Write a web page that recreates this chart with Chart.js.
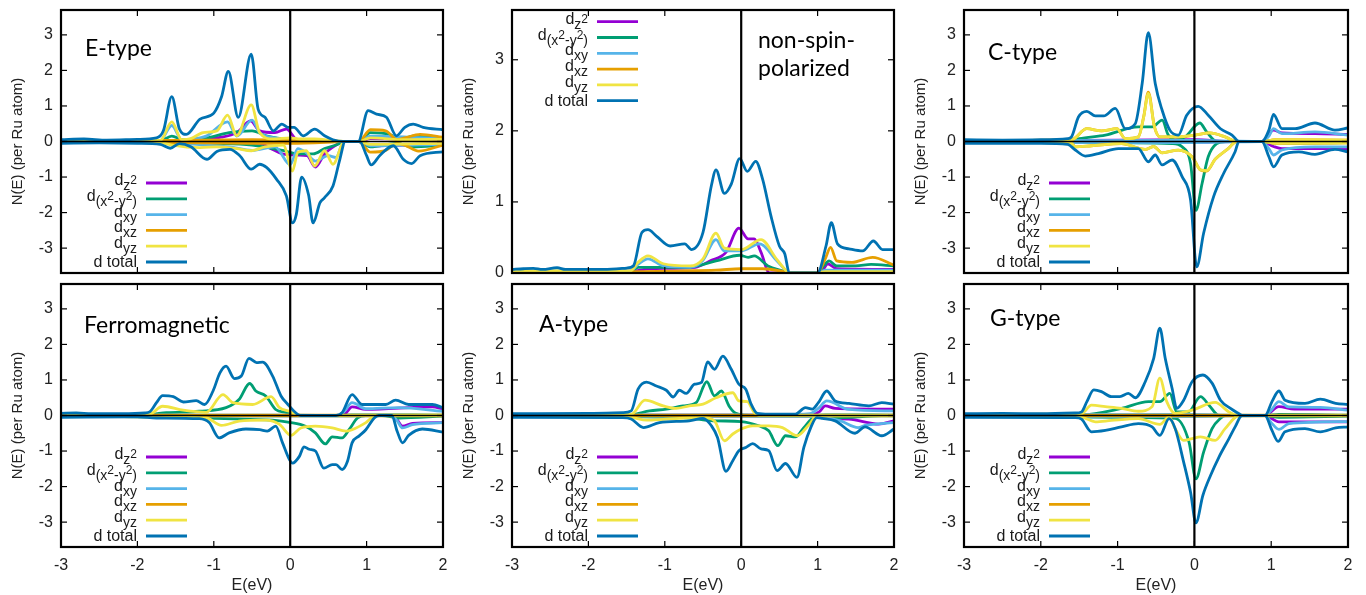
<!DOCTYPE html>
<html>
<head>
<meta charset="utf-8">
<title>Ru d-DOS</title>
<script src="https://cdn.jsdelivr.net/npm/chart.js@4.4.1/dist/chart.umd.min.js"></script>
<style>
  html, body { margin: 0; padding: 0; background: #fff; }
  body { width: 1366px; height: 595px; position: relative; overflow: hidden; }
  .panel { position: absolute; }
</style>
</head>
<body>
<div class="panel" style="left:0px;top:0px;width:448px;height:283px"><canvas id="p1"></canvas></div>
<div class="panel" style="left:451px;top:0px;width:448px;height:283px"><canvas id="p2"></canvas></div>
<div class="panel" style="left:903px;top:0px;width:450px;height:283px"><canvas id="p3"></canvas></div>
<div class="panel" style="left:0px;top:274px;width:448px;height:321px"><canvas id="p4"></canvas></div>
<div class="panel" style="left:451px;top:274px;width:448px;height:321px"><canvas id="p5"></canvas></div>
<div class="panel" style="left:903px;top:274px;width:450px;height:321px"><canvas id="p6"></canvas></div>

<script>
/* ── Axis ticks ───────────────────────────────────────── */
const energyTicks = [-3, -2, -1, 0, 1, 2];
const dosTicks = [-3, -2, -1, 0, 1, 2, 3];
const dosTicksNsp = [0, 1, 2, 3];

/* ── E-type (up spin > 0, down spin < 0) ──────────────── */
const eZ2Up = [[-3,0.01],[-1.6,0.02],[-1.2,0.07],[-0.9,0.12],[-0.7,0.25],[-0.52,0.58],[-0.4,0.3],[-0.2,0.25],[-0.05,0.35],[0.1,0.03],[0.6,0],[0.9,0],[1.05,0.08],[2,0.05]];
const eZ2Dn = [[-3,-0.01],[-1.0,-0.03],[-0.4,-0.05],[-0.25,-0.2],[-0.1,-0.35],[0.1,-0.38],[0.22,-0.4],[0.33,-0.72],[0.45,-0.35],[0.6,-0.1],[0.7,0],[0.9,0],[1.05,-0.12],[2,-0.05]];
const eX2y2Up = [[-3,0.01],[-1.7,0.02],[-1.55,0.15],[-1.4,0.05],[-1.1,0.1],[-0.8,0.25],[-0.5,0.3],[-0.3,0.15],[0,0.05],[0.6,0],[0.9,0],[1.05,0.25],[1.3,0.2],[1.45,0.05],[1.6,0.15],[2,0.1]];
const eX2y2Dn = [[-3,-0.01],[-1.7,-0.02],[-1.0,-0.05],[-0.5,-0.1],[-0.1,-0.25],[0.1,-0.35],[0.3,-0.35],[0.45,-0.2],[0.6,-0.1],[0.7,0],[0.9,0],[1.05,-0.15],[1.4,-0.05],[1.6,-0.15],[2,-0.1]];
const eXyUp = [[-3,0.02],[-1.7,0.03],[-1.55,0.45],[-1.42,0.05],[-1.1,0.15],[-0.82,0.55],[-0.7,0.15],[-0.5,0.6],[-0.4,0.25],[-0.2,0.1],[0,0.05],[0.6,0.01],[0.7,0],[0.9,0],[1.05,0.15],[2,0.08]];
const eXyDn = [[-3,-0.02],[-1.7,-0.03],[-1.1,-0.1],[-0.8,-0.15],[-0.5,-0.25],[-0.2,-0.15],[0,-0.65],[0.1,-0.2],[0.2,-0.3],[0.33,-0.55],[0.5,-0.4],[0.6,-0.45],[0.7,0],[0.9,0],[1.05,-0.12],[2,-0.08]];
const eXzUp = [[-3,0.02],[-1.6,0.03],[-0.5,0.05],[0,0.03],[0.6,0.01],[0.7,0],[0.9,0],[1.05,0.33],[1.25,0.3],[1.4,0.05],[1.5,0.1],[1.7,0.2],[2,0.12]];
const eXzDn = [[-3,-0.02],[-1.6,-0.03],[-0.5,-0.05],[0,-0.05],[0.6,-0.01],[0.7,0],[0.9,0],[1.05,-0.3],[1.25,-0.25],[1.4,-0.05],[1.5,-0.1],[1.68,-0.27],[2,-0.1]];
const eYzUp = [[-3,0.02],[-1.7,0.03],[-1.55,0.55],[-1.42,0.05],[-1.3,0.08],[-1.14,0.25],[-0.96,0.3],[-0.82,0.74],[-0.7,0.16],[-0.51,1.03],[-0.4,0.25],[-0.22,0.07],[0,0.1],[0.13,0.07],[0.32,0.07],[0.56,0.02],[0.7,0],[0.9,0],[1.05,0.1],[1.5,0.05],[2,0.06]];
const eYzDn = [[-3,-0.02],[-1.7,-0.03],[-1.55,-0.1],[-1.18,-0.17],[-0.96,-0.15],[-0.7,-0.2],[-0.51,-0.26],[-0.33,-0.15],[-0.09,-0.1],[0.03,-0.83],[0.1,-0.3],[0.21,-0.26],[0.32,-0.69],[0.45,-0.26],[0.56,-0.64],[0.69,-0.03],[0.72,0],[0.9,0],[1.05,-0.08],[2,-0.05]];
const eTotUp = [[-3,0.05],[-2.7,0.07],[-2.4,0.04],[-2.0,0.06],[-1.75,0.1],[-1.66,0.3],[-1.55,1.26],[-1.45,0.35],[-1.36,0.2],[-1.18,0.63],[-1.0,0.8],[-0.9,1.25],[-0.81,1.97],[-0.68,0.68],[-0.51,2.46],[-0.42,0.91],[-0.33,0.68],[-0.22,0.3],[-0.11,0.49],[-0.03,0.4],[0.05,0.4],[0.17,0.16],[0.32,0.35],[0.45,0.16],[0.56,0.05],[0.69,0],[0.89,0],[1.02,0.87],[1.13,0.77],[1.26,0.68],[1.39,0.16],[1.5,0.4],[1.61,0.49],[1.74,0.4],[2,0.33]];
const eTotDn = [[-3,-0.05],[-2.5,-0.04],[-2.0,-0.05],[-1.7,-0.08],[-1.57,-0.19],[-1.45,-0.06],[-1.3,-0.15],[-1.09,-0.5],[-0.96,-0.28],[-0.79,-0.22],[-0.66,-0.4],[-0.51,-0.78],[-0.4,-0.64],[-0.31,-0.73],[-0.18,-1.06],[-0.05,-1.53],[0.03,-2.29],[0.08,-2.05],[0.15,-1.0],[0.24,-1.5],[0.3,-2.29],[0.39,-1.72],[0.45,-1.58],[0.56,-1.25],[0.65,-0.5],[0.72,0],[0.91,0],[1.0,-0.4],[1.06,-0.66],[1.17,-0.4],[1.35,-0.12],[1.48,-0.5],[1.59,-0.62],[1.7,-0.4],[2,-0.29]];

/* ── non-spin-polarized ───────────────────────────────── */
const nZ2 = [[-3,0.02],[-1.4,0.03],[-1.2,0.06],[-0.6,0.08],[-0.41,0.17],[-0.2,0.29],[-0.03,0.63],[0.09,0.48],[0.17,0.48],[0.26,0.29],[0.37,0],[1.0,0],[1.08,0.06],[1.13,0.13],[1.25,0.06],[2,0.05]];
const nX2y2 = [[-3,0.01],[-1.45,0.02],[-1.35,0.08],[-0.7,0.08],[-0.33,0.17],[-0.02,0.25],[0.09,0.22],[0.17,0.24],[0.35,0.1],[0.54,0.03],[0.63,0],[1.0,0],[1.08,0.1],[1.15,0.17],[1.25,0.1],[1.5,0.1],[1.7,0.12],[2,0.1]];
const nXy = [[-3,0.03],[-1.45,0.03],[-1.35,0.12],[-1.22,0.2],[-1.02,0.1],[-0.67,0.08],[-0.5,0.18],[-0.33,0.47],[-0.22,0.31],[0,0.31],[0.24,0.41],[0.46,0.18],[0.59,0.03],[0.63,0],[1.0,0],[1.1,0.04],[2,0.04]];
const nXz = [[-3,0.02],[-1.4,0.02],[-0.8,0.03],[-0.33,0.04],[0,0.06],[0.28,0.06],[0.55,0.02],[0.63,0],[1.0,0],[1.1,0.2],[1.17,0.36],[1.25,0.17],[1.45,0.15],[1.72,0.22],[2,0.11]];
const nYz = [[-3,0.03],[-1.45,0.03],[-1.35,0.15],[-1.22,0.24],[-1.02,0.13],[-0.67,0.1],[-0.5,0.2],[-0.33,0.56],[-0.22,0.35],[0,0.33],[0.26,0.47],[0.46,0.2],[0.59,0.03],[0.63,0],[1.0,0],[1.1,0.02],[2,0.02]];
const nTot = [[-3,0.05],[-2.85,0.06],[-2.72,0.065],[-2.6,0.05],[-2.41,0.075],[-2.3,0.05],[-1.8,0.05],[-1.5,0.07],[-1.41,0.1],[-1.3,0.57],[-1.22,0.61],[-1.11,0.52],[-0.93,0.38],[-0.74,0.41],[-0.65,0.33],[-0.5,0.57],[-0.39,1.23],[-0.33,1.45],[-0.22,1.12],[-0.13,1.25],[-0.02,1.61],[0.08,1.43],[0.19,1.57],[0.28,1.32],[0.39,0.8],[0.5,0.38],[0.57,0.27],[0.63,0],[1.0,0],[1.11,0.38],[1.18,0.71],[1.26,0.41],[1.41,0.34],[1.59,0.31],[1.73,0.45],[1.85,0.33],[2,0.33]];

/* ── C-type ───────────────────────────────────────────── */
const cZ2Up = [[-3,0.01],[0,0.05],[0.5,0],[0.88,0],[1.03,0.32],[1.14,0.24],[1.57,0.22],[2,0.2]];
const cZ2Dn = [[-3,-0.01],[0,-0.02],[0.5,0],[0.88,0],[1.03,-0.14],[1.14,-0.2],[2,-0.2]];
const cX2y2Up = [[-3,0.01],[-1.6,0.02],[-1.5,0.08],[-1.16,0.18],[-0.73,0.41],[-0.55,0.41],[-0.42,0.6],[-0.34,0.18],[-0.25,0.04],[-0.12,0.13],[0.07,0.52],[0.16,0.27],[0.29,0],[0.9,0],[1.05,0.03],[2,0.02]];
const cX2y2Dn = [[-3,-0.01],[-1.6,-0.02],[-0.8,-0.04],[-0.29,-0.06],[-0.16,-0.15],[-0.05,-0.62],[0.02,-1.94],[0.1,-1.18],[0.18,-0.43],[0.29,-0.06],[0.4,0],[0.9,0],[1.05,-0.05],[2,-0.03]];
const cXyUp = [[-3,0.02],[0,0.03],[0.5,0.01],[0.88,0],[0.97,0.15],[1.03,0.36],[1.14,0.22],[1.57,0.27],[2,0.18]];
const cXyDn = [[-3,-0.02],[0,-0.03],[0.5,-0.01],[0.88,0],[0.97,-0.2],[1.03,-0.38],[1.14,-0.24],[1.57,-0.15],[2,-0.15]];
const cXzUp = [[-3,0.02],[-1.6,0.05],[-1.4,0.36],[-1.21,0.3],[-1.01,0.36],[-0.9,0.08],[-0.73,0.13],[-0.66,0.7],[-0.6,1.39],[-0.52,0.41],[-0.45,0.13],[-0.2,0.13],[0.01,0.18],[0.2,0.24],[0.4,0.13],[0.55,0],[0.9,0],[1.05,0.05],[2,0.04]];
const cXzDn = [[-3,-0.02],[-1.6,-0.05],[-1.55,-0.15],[-1.34,-0.12],[-0.95,-0.06],[-0.64,-0.22],[-0.53,-0.14],[-0.42,-0.32],[-0.21,-0.24],[-0.03,-0.43],[0.08,-0.8],[0.16,-0.83],[0.27,-0.5],[0.44,-0.2],[0.55,0],[0.9,0],[1.05,-0.05],[2,-0.04]];
const cYzUp = [[-3,0.02],[-1.6,0.05],[-1.4,0.36],[-1.21,0.3],[-1.01,0.36],[-0.9,0.08],[-0.73,0.13],[-0.66,0.69],[-0.6,1.35],[-0.52,0.41],[-0.45,0.13],[-0.2,0.13],[0.01,0.18],[0.2,0.24],[0.4,0.13],[0.55,0],[0.9,0],[1.05,0.05],[2,0.04]];
const cYzDn = [[-3,-0.02],[-1.6,-0.05],[-1.55,-0.15],[-1.34,-0.12],[-0.95,-0.06],[-0.64,-0.22],[-0.53,-0.14],[-0.42,-0.32],[-0.21,-0.24],[-0.03,-0.43],[0.08,-0.8],[0.16,-0.82],[0.27,-0.5],[0.44,-0.2],[0.55,0],[0.9,0],[1.05,-0.05],[2,-0.04]];
const cTotUp = [[-3,0.05],[-2.5,0.04],[-2.0,0.05],[-1.65,0.08],[-1.6,0.13],[-1.51,0.69],[-1.4,0.85],[-1.29,0.72],[-1.18,0.72],[-1.03,0.93],[-0.9,0.36],[-0.77,0.5],[-0.68,1.63],[-0.6,3.06],[-0.51,1.63],[-0.42,0.88],[-0.32,0.32],[-0.21,0.18],[-0.1,0.74],[0.05,0.99],[0.18,0.74],[0.34,0.36],[0.49,0.18],[0.58,0],[0.88,0],[0.97,0.32],[1.03,0.76],[1.14,0.36],[1.31,0.36],[1.57,0.52],[1.83,0.32],[2,0.38]];
const cTotDn = [[-3,-0.05],[-2.0,-0.05],[-1.65,-0.08],[-1.55,-0.24],[-1.42,-0.41],[-1.25,-0.34],[-0.99,-0.2],[-0.73,-0.2],[-0.6,-0.57],[-0.51,-0.38],[-0.42,-0.66],[-0.29,-0.52],[-0.16,-0.99],[-0.05,-1.64],[0.03,-3.53],[0.12,-2.58],[0.25,-1.55],[0.38,-0.9],[0.53,-0.29],[0.58,0],[0.88,0],[0.97,-0.43],[1.03,-0.71],[1.14,-0.38],[1.36,-0.29],[1.57,-0.36],[1.83,-0.22],[2,-0.29]];

/* ── Ferromagnetic ────────────────────────────────────── */
const fZ2Up = [[-3,0.01],[0.6,0],[0.72,0.05],[0.81,0.24],[0.99,0.17],[1.86,0.24],[2,0.18]];
const fZ2Dn = [[-3,-0.01],[1.33,0],[1.4,-0.12],[1.47,-0.3],[1.6,-0.22],[2,-0.2]];
const fX2y2Up = [[-3,0.01],[-1.85,0.03],[-1.62,0.08],[-1.19,0.12],[-0.84,0.22],[-0.67,0.45],[-0.53,0.9],[-0.45,0.69],[-0.32,0.55],[-0.19,0.17],[-0.06,0.09],[0.14,0],[0.6,0],[0.8,0.02],[2,0.01]];
const fX2y2Dn = [[-3,-0.01],[-1.1,-0.07],[-0.53,-0.11],[-0.23,-0.13],[-0.01,-0.19],[0.2,-0.3],[0.33,-0.49],[0.46,-0.8],[0.55,-0.6],[0.68,-0.63],[0.77,-0.4],[0.88,-0.07],[0.99,0],[1.2,0],[1.42,-0.07],[2,-0.02]];
const fXyUp = [[-3,0.02],[0.14,0.01],[0.6,0],[0.7,0.1],[0.81,0.36],[0.99,0.19],[1.42,0.22],[2,0.12]];
const fXyDn = [[-3,-0.02],[0.5,-0.02],[1.33,0],[1.4,-0.15],[1.47,-0.35],[1.6,-0.26],[2,-0.2]];
const fXzUp = [[-3,0.01],[2,0.01]];
const fXzDn = [[-3,-0.01],[2,-0.01]];
const fYzUp = [[-3,0.03],[-1.85,0.03],[-1.67,0.26],[-1.4,0.15],[-1.1,0.09],[-0.88,0.59],[-0.75,0.36],[-0.49,0.31],[-0.25,0.53],[-0.14,0.22],[-0.01,0.12],[0.14,0],[2,0.01]];
const fYzDn = [[-3,-0.02],[-1.1,-0.07],[-0.9,-0.28],[-0.67,-0.16],[-0.32,-0.13],[-0.14,-0.25],[0.01,-0.56],[0.14,-0.35],[0.33,-0.3],[0.55,-0.35],[0.73,-0.44],[0.81,-0.4],[0.99,-0.2],[1.12,0],[2,0]];
const fTotUp = [[-3,0.06],[-2.8,0.07],[-2.6,0.05],[-2.2,0.05],[-1.9,0.07],[-1.84,0.1],[-1.75,0.36],[-1.67,0.56],[-1.53,0.53],[-1.4,0.38],[-1.23,0.42],[-1.12,0.31],[-1.01,0.69],[-0.92,1.2],[-0.84,1.39],[-0.73,1.04],[-0.64,1.11],[-0.54,1.61],[-0.44,1.49],[-0.36,1.5],[-0.23,1.11],[-0.12,0.55],[-0.03,0.31],[0.05,0.12],[0.14,0],[0.6,0],[0.68,0.08],[0.81,0.59],[0.94,0.31],[1.25,0.31],[1.38,0.43],[1.55,0.31],[1.86,0.31],[2,0.22]];
const fTotDn = [[-3,-0.05],[-2.0,-0.04],[-1.75,-0.07],[-1.19,-0.09],[-1.06,-0.2],[-0.93,-0.63],[-0.8,-0.49],[-0.58,-0.38],[-0.4,-0.4],[-0.3,-0.44],[-0.19,-0.3],[-0.1,-0.77],[-0.01,-1.24],[0.03,-1.34],[0.12,-1.15],[0.18,-0.88],[0.25,-0.95],[0.33,-1.0],[0.44,-1.48],[0.55,-1.38],[0.6,-1.38],[0.68,-1.52],[0.75,-1.29],[0.81,-0.77],[0.9,-0.58],[0.99,-0.4],[1.1,-0.07],[1.16,0],[1.33,0],[1.4,-0.44],[1.47,-0.77],[1.55,-0.56],[1.73,-0.38],[2,-0.47]];

/* ── A-type ───────────────────────────────────────────── */
const aZ2Up = [[-3,0.01],[0.9,0.01],[1.02,0.1],[1.1,0.27],[1.23,0.2],[2,0.18]];
const aZ2Dn = [[-3,-0.01],[1.0,-0.02],[1.1,-0.08],[1.41,-0.1],[1.8,-0.24],[2,-0.15]];
const aX2y2Up = [[-3,0.01],[-1.44,0.03],[-1.2,0.13],[-0.98,0.18],[-0.76,0.27],[-0.59,0.36],[-0.45,0.95],[-0.35,0.55],[-0.26,0.69],[-0.16,0.27],[-0.07,0.06],[0.1,0],[0.9,0],[1.1,0.02],[2,0.01]];
const aX2y2Dn = [[-3,-0.01],[-0.76,-0.06],[-0.33,-0.15],[0,-0.17],[0.23,-0.29],[0.36,-0.43],[0.48,-0.85],[0.58,-0.57],[0.71,-0.6],[0.82,-0.34],[0.93,-0.08],[1.0,0],[1.23,-0.06],[1.84,-0.01],[2,-0.01]];
const aXyUp = [[-3,0.02],[0.5,0.02],[0.9,0.05],[1.01,0.2],[1.12,0.41],[1.41,0.17],[2,0.13]];
const aXyDn = [[-3,-0.02],[1.0,-0.03],[1.3,-0.15],[1.53,-0.34],[1.62,-0.28],[2,-0.2]];
const aXzUp = [[-3,0.01],[2,0.01]];
const aXzDn = [[-3,-0.01],[2,-0.01]];
const aYzUp = [[-3,0.02],[-1.44,0.03],[-1.26,0.43],[-1.02,0.27],[-0.85,0.2],[-0.68,0.27],[-0.5,0.32],[-0.33,0.5],[-0.11,0.64],[-0.03,0.41],[0.08,0.39],[0.17,0.08],[0.23,0],[2,0]];
const aYzDn = [[-3,-0.02],[-1.44,-0.06],[-1.24,-0.13],[-0.98,-0.1],[-0.5,-0.06],[-0.35,-0.15],[-0.22,-0.71],[-0.11,-0.52],[0,-0.38],[0.15,-0.29],[0.36,-0.29],[0.54,-0.34],[0.73,-0.57],[0.89,-0.25],[0.99,-0.01],[2,0]];
const aTotUp = [[-3,0.05],[-2.0,0.06],[-1.55,0.08],[-1.44,0.13],[-1.35,0.74],[-1.24,0.94],[-1.11,0.83],[-0.98,0.71],[-0.89,0.52],[-0.81,0.71],[-0.72,0.62],[-0.61,0.88],[-0.52,0.93],[-0.44,1.51],[-0.35,1.3],[-0.24,1.67],[-0.13,1.3],[-0.03,0.88],[0.06,0.74],[0.13,0.32],[0.21,0.06],[0.36,0.04],[0.71,0.04],[0.84,0.22],[0.93,0.18],[1.01,0.36],[1.12,0.69],[1.23,0.41],[1.41,0.34],[1.67,0.27],[1.84,0.36],[2,0.32]];
const aTotDn = [[-3,-0.05],[-1.55,-0.06],[-1.44,-0.1],[-1.28,-0.34],[-1.07,-0.2],[-0.68,-0.15],[-0.5,-0.08],[-0.39,-0.29],[-0.31,-0.62],[-0.2,-1.57],[-0.11,-1.27],[-0.03,-0.99],[0.06,-0.9],[0.15,-0.79],[0.26,-0.94],[0.36,-0.99],[0.47,-1.55],[0.58,-1.35],[0.73,-1.74],[0.82,-0.9],[0.91,-0.34],[0.99,-0.06],[1.06,-0.08],[1.23,-0.15],[1.49,-0.5],[1.62,-0.32],[1.84,-0.57],[2,-0.38]];

/* ── G-type ───────────────────────────────────────────── */
const gZ2Up = [[-3,0.01],[0.5,0],[0.92,0],[1.1,0.25],[1.3,0.18],[2,0.18]];
const gZ2Dn = [[-3,-0.01],[0.5,0],[0.92,0],[1.1,-0.18],[2,-0.18]];
const gX2y2Up = [[-3,0.01],[-1.47,0.02],[-0.95,0.2],[-0.6,0.39],[-0.45,0.39],[-0.32,0.62],[-0.23,0.1],[-0.08,0.1],[0.08,0.53],[0.19,0.29],[0.32,0],[0.92,0],[1.1,0.03],[2,0.01]];
const gX2y2Dn = [[-3,-0.01],[-1.0,-0.05],[-0.25,-0.08],[-0.07,-0.75],[0.02,-1.78],[0.12,-1.03],[0.23,-0.37],[0.34,-0.08],[0.4,0],[0.92,0],[1.1,-0.05],[2,-0.02]];
const gXyUp = [[-3,0.02],[0,0.03],[0.5,0.01],[0.92,0],[1.0,0.15],[1.1,0.39],[1.23,0.24],[1.64,0.23],[2,0.15]];
const gXyDn = [[-3,-0.02],[0,-0.03],[0.5,-0.01],[0.92,0],[1.0,-0.2],[1.1,-0.39],[1.23,-0.23],[2,-0.17]];
const gXzUp = [[-3,0.01],[2,0.01]];
const gXzDn = [[-3,-0.01],[2,-0.01]];
const gYzUp = [[-3,0.03],[-1.47,0.05],[-1.34,0.29],[-1.16,0.25],[-0.95,0.2],[-0.73,0.12],[-0.55,0.25],[-0.45,1.05],[-0.36,0.39],[-0.25,0.06],[-0.03,0.15],[0.27,0.37],[0.45,0.1],[0.56,0],[2,0]];
const gYzDn = [[-3,-0.03],[-1.47,-0.05],[-1.29,-0.18],[-1.08,-0.14],[-0.73,-0.09],[-0.45,-0.25],[-0.33,-0.04],[-0.25,-0.37],[-0.14,-0.7],[-0.03,-0.65],[0.08,-0.6],[0.27,-0.7],[0.4,-0.37],[0.58,0],[2,0]];
const gTotUp = [[-3,0.05],[-2.5,0.06],[-2.0,0.05],[-1.55,0.07],[-1.47,0.1],[-1.4,0.39],[-1.31,0.72],[-1.21,0.67],[-1.08,0.53],[-0.97,0.53],[-0.86,0.62],[-0.77,0.5],[-0.64,0.95],[-0.53,1.61],[-0.45,2.46],[-0.38,1.61],[-0.29,0.76],[-0.23,0.2],[-0.14,0.43],[-0.03,0.95],[0.11,1.14],[0.23,0.91],[0.34,0.43],[0.47,0.2],[0.58,0.05],[0.62,0],[0.92,0],[1.01,0.39],[1.1,0.69],[1.18,0.43],[1.44,0.34],[1.64,0.46],[1.84,0.34],[2,0.31]];
const gTotDn = [[-3,-0.05],[-1.55,-0.06],[-1.47,-0.1],[-1.34,-0.46],[-1.16,-0.42],[-0.95,-0.32],[-0.73,-0.23],[-0.55,-0.32],[-0.45,-0.56],[-0.33,-0.09],[-0.25,-0.37],[-0.14,-1.31],[-0.05,-2.16],[0.02,-3.02],[0.11,-2.25],[0.21,-1.69],[0.32,-1.17],[0.45,-0.65],[0.53,-0.32],[0.62,0],[0.92,0],[1.01,-0.42],[1.09,-0.73],[1.18,-0.46],[1.44,-0.37],[1.64,-0.46],[1.84,-0.35],[2,-0.32]];

/* ── Styles ───────────────────────────────────────────── */
// gnuplot default palette: dz2, dx2-y2, dxy, dxz, dyz, d total
const orbitalColors = ['#9400D3', '#009E73', '#56B4E9', '#E69F00', '#F0E442', '#0072B2'];
// legend pieces: [text, level]  0 = main, 1 = subscript, 2 = superscript in subscript, 3 = plain
const legendLabels = [
    [['d', 0], ['z', 1], ['2', 2]],
    [['d', 0], ['(x', 1], ['2', 2], ['-y', 1], ['2', 2], [')', 1]],
    [['d', 0], ['xy', 1]],
    [['d', 0], ['xz', 1]],
    [['d', 0], ['yz', 1]],
    [['d total', 3]]
];
const levelSize = [16, 14, 12, 16];
const levelDy = [2, 7, 1, 5];
const AXIS_FONT = '"Liberation Sans", Arial, sans-serif';
const TITLE_FONT = 'Lato, "Open Sans", sans-serif';
const CURVE_WIDTH = 2.8;

const panels = [
    { id: 'p1', title: ['E-type'], titlePos: [24, 46], legend: 'bottom', bottomAxis: false, yTicks: dosTicks, yMin: -3.7, yMax: 3.7,
      curves: [[eZ2Up, eZ2Dn], [eX2y2Up, eX2y2Dn], [eXyUp, eXyDn], [eXzUp, eXzDn], [eYzUp, eYzDn], [eTotUp, eTotDn]] },
    { id: 'p2', title: ['non-spin-', 'polarized'], titlePos: [246, 38], legend: 'top', bottomAxis: false, yTicks: dosTicksNsp, yMin: 0, yMax: 3.7,
      curves: [[nZ2], [nX2y2], [nXy], [nXz], [nYz], [nTot]] },
    { id: 'p3', title: ['C-type'], titlePos: [24, 50], legend: 'bottom', bottomAxis: false, yTicks: dosTicks, yMin: -3.7, yMax: 3.7,
      curves: [[cZ2Up, cZ2Dn], [cX2y2Up, cX2y2Dn], [cXyUp, cXyDn], [cXzUp, cXzDn], [cYzUp, cYzDn], [cTotUp, cTotDn]] },
    { id: 'p4', title: ['Ferromagnetic'], titlePos: [23, 49], legend: 'bottom', bottomAxis: true, yTicks: dosTicks, yMin: -3.7, yMax: 3.7,
      curves: [[fZ2Up, fZ2Dn], [fX2y2Up, fX2y2Dn], [fXyUp, fXyDn], [fXzUp, fXzDn], [fYzUp, fYzDn], [fTotUp, fTotDn]] },
    { id: 'p5', title: ['A-type'], titlePos: [27, 48], legend: 'bottom', bottomAxis: true, yTicks: dosTicks, yMin: -3.7, yMax: 3.7,
      curves: [[aZ2Up, aZ2Dn], [aX2y2Up, aX2y2Dn], [aXyUp, aXyDn], [aXzUp, aXzDn], [aYzUp, aYzDn], [aTotUp, aTotDn]] },
    { id: 'p6', title: ['G-type'], titlePos: [26, 42], legend: 'bottom', bottomAxis: true, yTicks: dosTicks, yMin: -3.7, yMax: 3.7,
      curves: [[gZ2Up, gZ2Dn], [gX2y2Up, gX2y2Dn], [gXyUp, gXyDn], [gXzUp, gXzDn], [gYzUp, gYzDn], [gTotUp, gTotDn]] }
];

/* ── Decorations: frame, ticks, zero lines, legend, text ─ */
function drawLegendLabel(ctx, pieces, right, y) {
    let total = 0;
    pieces.forEach(([t, lv]) => {
        ctx.font = `${levelSize[lv]}px ${AXIS_FONT}`;
        total += ctx.measureText(t).width;
    });
    let x = right - total;
    pieces.forEach(([t, lv]) => {
        ctx.font = `${levelSize[lv]}px ${AXIS_FONT}`;
        ctx.fillText(t, x, y + levelDy[lv]);
        x += ctx.measureText(t).width;
    });
}

function decoPlugin(panel) {
    return {
        id: 'deco',
        afterDatasetsDraw(chart) {
            const { ctx, chartArea: a, scales: { x, y } } = chart;
            const seg = (x1, y1, x2, y2) => { ctx.beginPath(); ctx.moveTo(x1, y1); ctx.lineTo(x2, y2); ctx.stroke(); };
            ctx.save();
            ctx.strokeStyle = '#000';

            // zero lines
            ctx.lineWidth = 1.6;
            const y0 = y.getPixelForValue(0);
            seg(a.left, y0, a.right, y0);
            ctx.lineWidth = 2.2;
            const x0 = x.getPixelForValue(0);
            seg(x0, a.top, x0, a.bottom);

            // inward mirrored ticks
            ctx.lineWidth = 1.2;
            energyTicks.forEach(v => {
                const px = x.getPixelForValue(v);
                seg(px, a.bottom, px, a.bottom - 6);
                seg(px, a.top, px, a.top + 6);
            });
            panel.yTicks.forEach(v => {
                const py = y.getPixelForValue(v);
                seg(a.left, py, a.left + 6, py);
                seg(a.right, py, a.right - 6, py);
            });

            // frame
            ctx.lineWidth = 2.2;
            ctx.strokeRect(a.left, a.top, a.right - a.left, a.bottom - a.top);

            // legend
            ctx.fillStyle = '#1a1a1a';
            ctx.textAlign = 'left';
            ctx.textBaseline = 'alphabetic';
            legendLabels.forEach((pieces, i) => {
                const ry = panel.legend === 'top'
                    ? a.top + 11.7 + i * 15.8
                    : a.bottom - 11 - (5 - i) * 15.8;
                drawLegendLabel(ctx, pieces, a.left + 76, ry);
                ctx.strokeStyle = orbitalColors[i];
                ctx.lineWidth = CURVE_WIDTH;
                seg(a.left + 85, ry, a.left + 126, ry);
            });

            // panel title
            ctx.fillStyle = '#000';
            ctx.font = `23px ${TITLE_FONT}`;
            panel.title.forEach((t, i) => {
                ctx.fillText(t, a.left + panel.titlePos[0], a.top + panel.titlePos[1] + i * 28);
            });

            // axis titles
            ctx.fillStyle = '#222';
            ctx.font = `15px ${AXIS_FONT}`;
            ctx.textAlign = 'center';
            ctx.textBaseline = 'middle';
            ctx.save();
            ctx.translate(a.left - 43, (a.top + a.bottom) / 2);
            ctx.rotate(-Math.PI / 2);
            ctx.fillText('N(E) (per Ru atom)', 0, 0);
            ctx.restore();
            if (panel.bottomAxis) {
                ctx.font = `16px ${AXIS_FONT}`;
                ctx.fillText('E(eV)', (a.left + a.right) / 2, a.bottom + 39);
            }
            ctx.restore();
        }
    };
}

// keep the scale boxes from reserving extra room for edge labels
function clearPadding(s) {
    s.paddingLeft = 0;
    s.paddingRight = 0;
    s.paddingTop = 0;
    s.paddingBottom = 0;
}

/* ── Charts ───────────────────────────────────────────── */
panels.forEach(panel => {
    const datasets = [];
    panel.curves.forEach((spins, i) => {
        spins.forEach(pts => {
            datasets.push({
                data: pts.map(p => ({ x: p[0], y: p[1] })),
                borderColor: orbitalColors[i],
                borderWidth: CURVE_WIDTH,
                pointRadius: 0,
                fill: false,
                cubicInterpolationMode: 'monotone',
                order: 5 - i
            });
        });
    });

    new Chart(document.getElementById(panel.id), {
        type: 'line',
        data: { datasets },
        options: {
            responsive: true,
            maintainAspectRatio: false,
            animation: false,
            events: [],
            layout: { padding: { top: 10, right: 5, left: 0, bottom: 0 } },
            plugins: { legend: { display: false }, tooltip: { enabled: false } },
            scales: {
                x: {
                    type: 'linear',
                    min: -3,
                    max: 2,
                    afterBuildTicks: s => { s.ticks = energyTicks.map(v => ({ value: v })); },
                    afterFit: s => { s.height = panel.bottomAxis ? 48 : 10; clearPadding(s); },
                    grid: { display: false, drawTicks: false },
                    border: { display: false },
                    ticks: {
                        display: panel.bottomAxis,
                        padding: 9,
                        maxRotation: 0,
                        color: '#222',
                        font: { family: AXIS_FONT, size: 16 }
                    }
                },
                y: {
                    type: 'linear',
                    min: panel.yMin,
                    max: panel.yMax,
                    afterBuildTicks: s => { s.ticks = panel.yTicks.map(v => ({ value: v })); },
                    afterFit: s => { s.width = 61; clearPadding(s); },
                    grid: { display: false, drawTicks: false },
                    border: { display: false },
                    ticks: {
                        padding: 8,
                        color: '#222',
                        font: { family: AXIS_FONT, size: 16 }
                    }
                }
            }
        },
        plugins: [decoPlugin(panel)]
    });
});
</script>
</body>
</html>
